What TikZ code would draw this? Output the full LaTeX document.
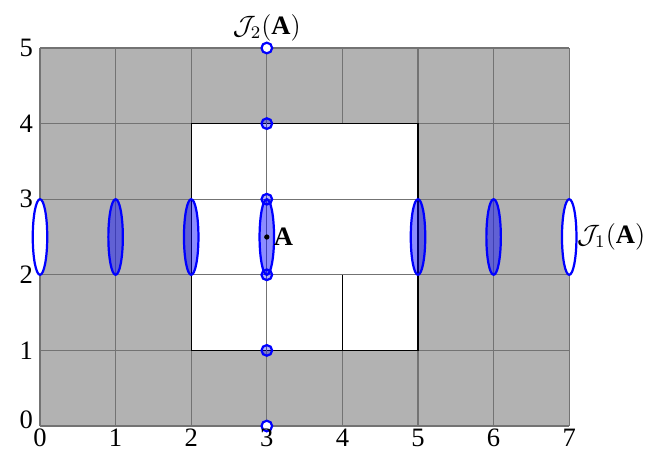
\documentclass[tikz,border=0pt]{standalone}
\usepackage{amsmath, amssymb}
\usepackage{fontspec}
\setmainfont{Liberation Serif}
\usepackage{tikz}
\usetikzlibrary{positioning}

\begin{document}
\begin{tikzpicture}[
    x=1.2cm, y=1.2cm,
    font=\large,
    cellline/.style={draw=black!55, line width=0.6pt},
    holeline/.style={draw=black, line width=0.6pt},
    slab/.style={draw=blue, line width=1pt, fill=blue, fill opacity=0.45},
    endslab/.style={draw=blue, line width=1pt, fill=white},
    probe/.style={draw=blue, line width=1pt, fill=blue, fill opacity=0.3},
    endprobe/.style={draw=blue, line width=1pt, fill=white}
]
    \useasboundingbox (-0.529,-0.384) rectangle (8.148,5.635);
    % Domain and hole
    \fill[black!30] (0,0) rectangle (7,5);
    \foreach \x in {0,...,7}
        \draw[cellline] (\x,0) -- (\x,5);
    \foreach \y in {0,...,5}
        \draw[cellline] (0,\y) -- (7,\y);
    \fill[white] (2,1) rectangle (5,4);
    \draw[holeline] (2,1) rectangle (5,4);
    \draw[holeline] (4,1) -- (4,2);
    % Lines through A
    \draw[cellline] (3,0) -- (3,5);
    \draw[cellline] (0,2) -- (7,2);
    \draw[cellline] (0,3) -- (7,3);
    % Slabs along the first direction
    \foreach \x in {1,2,3,5,6}
        \draw[slab] (\x,2.5) ellipse [x radius=0.115cm, y radius=0.6cm];
    \foreach \x in {0,7}
        \draw[endslab] (\x,2.5) ellipse [x radius=0.115cm, y radius=0.6cm];
    % Points along the second direction
    \foreach \y in {1,2,3,4}
        \draw[probe] (3,\y) circle [radius=2.4pt];
    \foreach \y in {0,5}
        \draw[endprobe] (3,\y) circle [radius=2.4pt];
    % The point A
    \fill (3,2.5) circle [radius=1.2pt];
    \coordinate (A) at (3,2.5);
    \node[right=1pt of A, inner sep=2pt] (Alabel) {$\mathbf{A}$};
    \coordinate (J1) at (7.1,2.5);
    \node[right, inner sep=0pt] (J1label) at (J1) {$\mathcal{J}_1(\mathbf{A})$};
    \coordinate (J2) at (3,5.06);
    \node[above, inner sep=1pt] (J2label) at (J2) {$\mathcal{J}_2(\mathbf{A})$};
    % Axis numbers
    \foreach \x in {0,...,7}
        \node[below, inner sep=1pt] (xtick\x) at (\x,0) {\x};
    \foreach \y in {1,...,5}
        \node[left, inner sep=3pt] (ytick\y) at (0,\y) {\y};
    \node[left, inner sep=3pt] (ytick0) at (0,0.08) {0};
\end{tikzpicture}
\end{document}
